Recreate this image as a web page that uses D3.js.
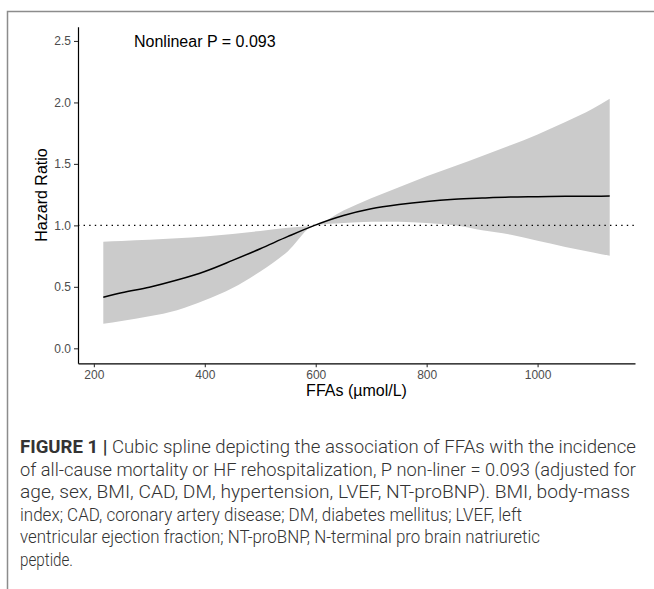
<!DOCTYPE html>
<html>
<head>
<meta charset="utf-8">
<script src="https://cdn.jsdelivr.net/npm/d3@7"></script>
<style>
    body { margin: 0; background: #fff; }
    svg { display: block; }
</style>
</head>
<body>
<div id="chart"></div>
<script>
// FFA values (umol/L) along the spline
var ffa = [217, 250, 300, 350, 400, 450, 500, 550, 598, 650, 700, 750, 800, 850, 900, 950, 1000, 1050, 1100, 1130];
// hazard ratio and 95% CI
var hr = [0.415, 0.452, 0.497, 0.555, 0.625, 0.715, 0.81, 0.91, 1.0, 1.08, 1.135, 1.17, 1.195, 1.212, 1.222, 1.23, 1.233, 1.236, 1.237, 1.238];
var hrUpper = [0.867, 0.873, 0.882, 0.895, 0.91, 0.93, 0.955, 0.98, 1.0, 1.12, 1.22, 1.31, 1.4, 1.48, 1.565, 1.65, 1.74, 1.84, 1.95, 2.03];
var hrLower = [0.2, 0.222, 0.26, 0.31, 0.39, 0.49, 0.625, 0.79, 1.0, 1.02, 1.03, 1.03, 1.02, 1.0, 0.96, 0.925, 0.875, 0.825, 0.78, 0.753];

var xTicks = [200, 400, 600, 800, 1000];
var yTicks = [0, 0.5, 1, 1.5, 2, 2.5];

var captionLines = [
    "of all-cause mortality or HF rehospitalization, P non-liner = 0.093 (adjusted for",
    "age, sex, BMI, CAD, DM, hypertension, LVEF, NT-proBNP). BMI, body-mass",
    "index; CAD, coronary artery disease; DM, diabetes mellitus; LVEF, left",
    "ventricular ejection fraction; NT-proBNP, N-terminal pro brain natriuretic",
    "peptide."
];
var captionWidths = [616, 610, 502, 520, 53];

var width = 654;
var height = 589;
var font = "'Liberation Sans', Arial, sans-serif";
var capFont = "Roboto, 'Liberation Sans', sans-serif";

var svg = d3.select("#chart")
    .append("svg")
    .attr("width", width)
    .attr("height", height);

//figure frame (left and top only)
svg.append("path")
    .attr("d", "M7.5,589 L7.5,11.5 L654,11.5")
    .attr("fill", "none")
    .attr("stroke", "#8c8c8c")
    .attr("stroke-width", 1.5);

//panel
var panel = { left: 78, right: 635, top: 26.7, bottom: 363.3 };

//x-axis
const xScale = d3.scaleLinear()
    .domain([171.4, 1175.6])
    .range([panel.left, panel.right]);

//y-axis
const yScale = d3.scaleLinear()
    .domain([-0.122, 2.616])
    .range([panel.bottom, panel.top]);

//confidence band
var rows = ffa.map(function (d, i) { return { x: d, y: hr[i], lo: hrLower[i], hi: hrUpper[i] }; });

svg.append("path")
    .datum(rows)
    .attr("fill", "#cbcbcb")
    .attr("d", d3.area()
        .x(function (d) { return xScale(d.x); })
        .y0(function (d) { return yScale(d.lo); })
        .y1(function (d) { return yScale(d.hi); })
        .curve(d3.curveMonotoneX));

//reference line at HR = 1
svg.append("line")
    .attr("x1", panel.left)
    .attr("x2", panel.right)
    .attr("y1", yScale(1))
    .attr("y2", yScale(1))
    .attr("stroke", "#000")
    .attr("stroke-width", 1.4)
    .attr("stroke-dasharray", "1.4,4.2");

//spline
svg.append("path")
    .datum(rows)
    .attr("fill", "none")
    .attr("stroke", "#000")
    .attr("stroke-width", 1.5)
    .attr("d", d3.line()
        .x(function (d) { return xScale(d.x); })
        .y(function (d) { return yScale(d.y); })
        .curve(d3.curveMonotoneX));

//add x-axis
var x_axis = d3.axisBottom(xScale).tickValues(xTicks).tickSize(4).tickPadding(3).tickSizeOuter(0)
    .tickFormat(d3.format("d"));
var gx = svg.append("g")
    .attr("transform", "translate(0," + panel.bottom + ")")
    .call(x_axis);

//add y-axis
var y_axis = d3.axisLeft(yScale).tickValues(yTicks).tickSize(4).tickPadding(3).tickSizeOuter(0)
    .tickFormat(d3.format(".1f"));
var gy = svg.append("g")
    .attr("transform", "translate(" + panel.left + ",0)")
    .call(y_axis);

[gx, gy].forEach(function (g) {
    g.select(".domain").attr("stroke", "#000").attr("stroke-width", 1.2);
    g.selectAll(".tick line").attr("stroke", "#333").attr("stroke-width", 1.1);
    g.selectAll(".tick text")
        .attr("fill", "#4d4d4d")
        .style("font-family", font)
        .style("font-size", "12px");
});

//axis labels
svg.append("text")
    .attr("x", (panel.left + panel.right) / 2)
    .attr("y", 396)
    .attr("text-anchor", "middle")
    .style("font-family", font)
    .style("font-size", "16px")
    .attr("fill", "#000")
    .text("FFAs (\u00b5mol/L)");

svg.append("text")
    .attr("transform", "rotate(-90)")
    .attr("x", -(panel.top + panel.bottom) / 2)
    .attr("y", 47)
    .attr("text-anchor", "middle")
    .style("font-family", font)
    .style("font-size", "16px")
    .attr("fill", "#000")
    .text("Hazard Ratio");

//annotation
svg.append("text")
    .attr("x", 134)
    .attr("y", 47)
    .style("font-family", font)
    .style("font-size", "16px")
    .attr("fill", "#000")
    .text("Nonlinear P = 0.093");

//caption
var cap = svg.append("text")
    .attr("class", "cap")
    .attr("x", 20)
    .attr("y", 453)
    .style("font-family", capFont)
    .style("font-size", "18px")
    .attr("fill", "#333");
cap.append("tspan").attr("font-weight", "bold").text("FIGURE 1 |");
cap.append("tspan").attr("font-weight", 300).text(" Cubic spline depicting the association of FFAs with the incidence");

svg.selectAll(".capline")
    .data(captionLines)
    .enter()
    .append("text")
    .attr("class", "cap capline")
    .attr("x", 20)
    .attr("y", function (d, i) { return 453 + (i + 1) * 22.5; })
    .style("font-family", capFont)
    .style("font-size", "18px")
    .attr("font-weight", 300)
    .attr("fill", "#333")
    .text(function (d) { return d; });

//pick one font size for the caption so the stretch evenly shares out, then fit each line
var targets = [616].concat(captionWidths);
var natural = [];
svg.selectAll(".cap").each(function () { natural.push(this.getComputedTextLength()); });
var fs = 18 * d3.sum(targets) / d3.sum(natural);
svg.selectAll(".cap")
    .style("font-size", fs + "px")
    .attr("textLength", function (d, i) { return targets[i]; })
    .attr("lengthAdjust", "spacingAndGlyphs");
</script>
</body>
</html>
